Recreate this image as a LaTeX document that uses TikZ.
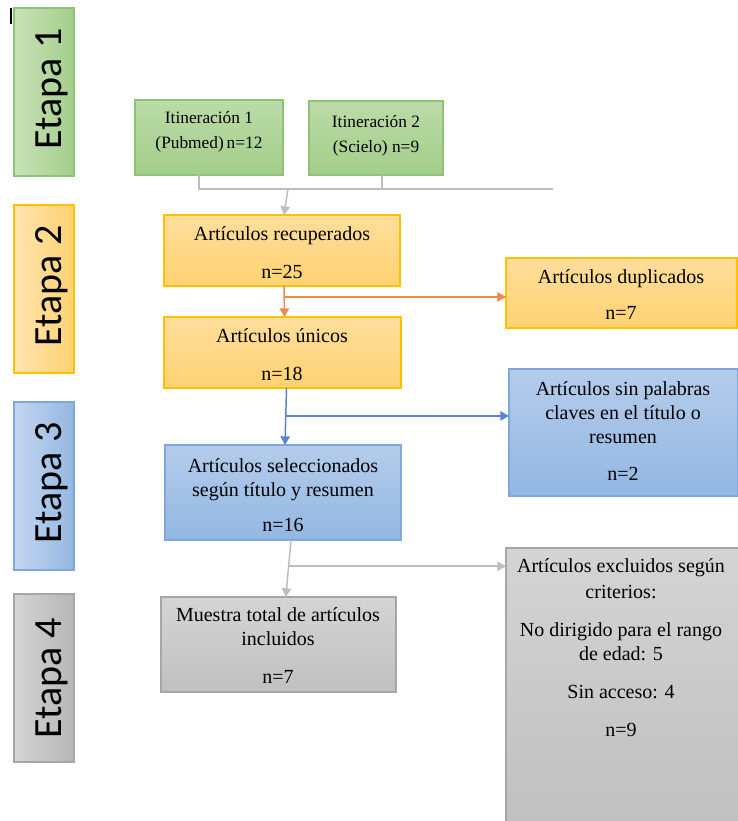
\documentclass[tikz,border=0pt]{standalone}
\usepackage{fontspec}
\setmainfont{Liberation Serif}
\newfontfamily\etfont{Carlito}
\usetikzlibrary{arrows.meta}
\definecolor{gA}{HTML}{BBDBA7}\definecolor{gB}{HTML}{A4CE8A}\definecolor{gD}{HTML}{8CC474}
\definecolor{oA}{HTML}{FFDE9C}\definecolor{oB}{HTML}{FFD272}\definecolor{oD}{HTML}{FFC000}
\definecolor{bA}{HTML}{B4CCEB}\definecolor{bB}{HTML}{93B7E2}\definecolor{bD}{HTML}{7FA7DC}
\definecolor{sA}{HTML}{D4D4D4}\definecolor{sB}{HTML}{C0C0C0}\definecolor{sD}{HTML}{A6A6A6}
\definecolor{cG}{HTML}{BDBDBD}\definecolor{cO}{HTML}{EE8A4A}\definecolor{cB}{HTML}{5A82CF}
\begin{document}
\begin{tikzpicture}[x=0.75pt,y=-0.75pt,
  box/.style={draw, line width=0.9pt, inner sep=0pt, outer sep=0pt, anchor=north west},
  gbox/.style={box, draw=gD, top color=gA, bottom color=gB},
  obox/.style={box, draw=oD, top color=oA, bottom color=oB},
  bbox/.style={box, draw=bD, top color=bA, bottom color=bB},
  sbox/.style={box, draw=sD, top color=sA, bottom color=sB},
  ge/.style={box, draw=gD, left color=gA!80!white, right color=gB},
  oe/.style={box, draw=oD, left color=oA!80!white, right color=oB},
  be/.style={box, draw=bD, left color=bA!80!white, right color=bB},
  se/.style={box, draw=sD, left color=sA, right color=sB!95!black},
  txt/.style={anchor=base, inner sep=0pt, font=\fontsize{15}{18}\selectfont},
  stxt/.style={anchor=base, inner sep=0pt, font=\fontsize{13}{16}\selectfont},
  etxt/.style={rotate=90, anchor=base, inner sep=0pt, font=\etfont\fontsize{30}{36}\selectfont},
  tip/.style={-{Triangle[length=6.5pt,width=7pt]}},
  conn/.style={line width=1.1pt}
]
\useasboundingbox (0,0) rectangle (738,821);
\fill[white] (0,0) rectangle (738,821);
\draw[line width=1pt] (11,8) -- (11,24);

% Etapa boxes
\node[ge, minimum width=60*0.75pt, minimum height=168*0.75pt] (e1) at (14,8) {};
\node[oe, minimum width=60*0.75pt, minimum height=168*0.75pt] (e2) at (14,205) {};
\node[be, minimum width=60*0.75pt, minimum height=168*0.75pt] (e3) at (14,402) {};
\node[se, minimum width=60*0.75pt, minimum height=168*0.75pt] (e4) at (14,594) {};
\node[etxt] (e1t) at (61,89) {Etapa 1};
\node[etxt] (e2t) at (61,286) {Etapa 2};
\node[etxt] (e3t) at (61,483) {Etapa 3};
\node[etxt] (e4t) at (61,678) {Etapa 4};

% Main boxes
\node[gbox, minimum width=148*0.75pt, minimum height=75*0.75pt] (it1) at (135,100) {};
\node[gbox, minimum width=134*0.75pt, minimum height=74*0.75pt] (it2) at (309,101) {};
\node[obox, minimum width=236*0.75pt, minimum height=71*0.75pt] (rec) at (164,215) {};
\node[obox, minimum width=237*0.75pt, minimum height=71*0.75pt] (uni) at (164,317) {};
\node[obox, minimum width=231*0.75pt, minimum height=70*0.75pt] (dup) at (506,258) {};
\node[bbox, minimum width=229*0.75pt, minimum height=127*0.75pt] (sin) at (509,369) {};
\node[bbox, minimum width=236*0.75pt, minimum height=95*0.75pt] (sel) at (165,445) {};
\node[sbox, minimum width=235*0.75pt, minimum height=95*0.75pt] (mue) at (161,597) {};
\node[sbox, minimum width=234*0.75pt, minimum height=276*0.75pt] (exc) at (506,548) {};

% Texts
\node[stxt] (it1a) at (209,123) {Itineración 1};
\node[stxt] (it1b) at (209,148) {(Pubmed)\,n=12};
\node[stxt] (it2a) at (376,127) {Itineración 2};
\node[stxt] (it2b) at (376,152) {(Scielo) n=9};
\node[txt] (reca) at (282,240) {Artículos recuperados};
\node[txt] (recb) at (282,278) {n=25};
\node[txt] (unia) at (282,342) {Artículos únicos};
\node[txt] (unib) at (282,380) {n=18};
\node[txt] (dupa) at (621,283) {Artículos duplicados};
\node[txt] (dupb) at (621,319) {n=7};
\node[txt] (sina) at (623,395) {Artículos sin palabras};
\node[txt] (sinb) at (623,419) {claves en el título o};
\node[txt] (sinc) at (623,443) {resumen};
\node[txt] (sind) at (623,480) {n=2};
\node[txt] (sela) at (283,472) {Artículos seleccionados};
\node[txt] (selb) at (283,496) {según título y resumen};
\node[txt] (selc) at (283,531) {n=16};
\node[txt] (muea) at (278,621) {Muestra total de artículos};
\node[txt] (mueb) at (278,645) {incluidos};
\node[txt] (muec) at (278,683) {n=7};
\node[txt] (exca) at (621,572) {Artículos excluidos según};
\node[txt] (excb) at (621,598) {criterios:};
\node[txt] (excc) at (621,636) {No dirigido para el rango};
\node[txt] (excd) at (621,660) {de edad: 5};
\node[txt] (exce) at (621,698) {Sin acceso: 4};
\node[txt] (excf) at (621,736) {n=9};

% Connectors: stage 1
\coordinate (ga) at (199,189);
\coordinate (gb) at (382,189);
\coordinate (gc) at (553,189);
\coordinate (gd) at (288,189);
\draw[conn, cG] (ga |- it1.south) -- (ga) -- (gc);
\draw[conn, cG] (gb |- it2.south) -- (gb);
\draw[conn, cG, tip] (gd) -- ([xshift=1.5pt]rec.north);

% stage 2
\path ([xshift=1.5pt]rec.south) -- ([xshift=1.5pt]uni.north) coordinate[pos=0.35] (oa);
\draw[conn, cO, tip] ([xshift=1.5pt]rec.south) -- ([xshift=1.5pt]uni.north);
\draw[conn, cO, tip] (oa) -- (oa -| dup.west);

% stage 3
\path ([xshift=3pt]uni.south) -- ([xshift=1.5pt]sel.north) coordinate[pos=0.49] (ba);
\draw[conn, cB, tip] ([xshift=3pt]uni.south) -- ([xshift=1.5pt]sel.north);
\draw[conn, cB, tip] (ba) -- (ba -| sin.west);

% stage 4
\path ([xshift=6pt]sel.south) -- ([xshift=5.5pt]mue.north) coordinate[pos=0.46] (sa);
\draw[conn, cG, tip] ([xshift=6pt]sel.south) -- ([xshift=5.5pt]mue.north);
\draw[conn, cG, tip] (sa) -- (sa -| exc.west);
\end{tikzpicture}
\end{document}
